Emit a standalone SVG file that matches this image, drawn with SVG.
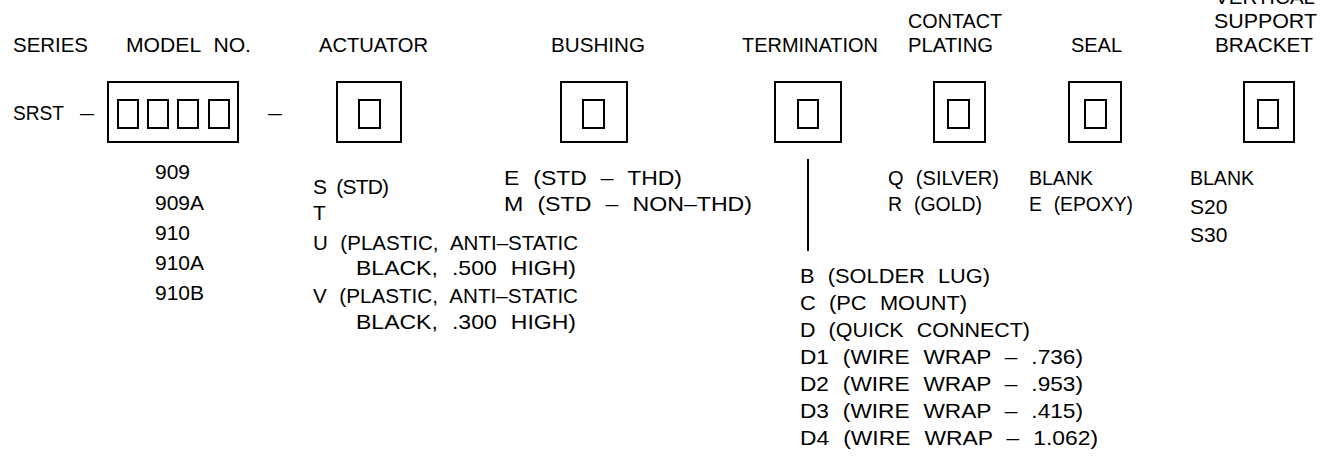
<svg xmlns="http://www.w3.org/2000/svg" width="1332" height="473" viewBox="0 0 1332 473">
<style>
text{font-family:"Liberation Sans",Arial,sans-serif;font-size:21px;fill:#000;word-spacing:7px;}
.b{fill:none;stroke:#000;stroke-width:2;}
.ln{stroke:#000;stroke-width:2;fill:none;}
</style>
<rect width="1332" height="473" fill="#fff"/>
<g id="series">
<text x="13" y="52" textLength="75" lengthAdjust="spacingAndGlyphs">SERIES</text>
<text x="13" y="120" textLength="51" lengthAdjust="spacingAndGlyphs">SRST</text>
<text x="80" y="120" textLength="14" lengthAdjust="spacingAndGlyphs">–</text>
</g>
<g id="model">
<text x="126" y="52" textLength="125" lengthAdjust="spacingAndGlyphs">MODEL NO.</text>
<rect class="b" x="108" y="82" width="130" height="60"/>
<rect class="b" x="118" y="100" width="20" height="28"/>
<rect class="b" x="148" y="100" width="20" height="28"/>
<rect class="b" x="178" y="100" width="20" height="28"/>
<rect class="b" x="209" y="100" width="20" height="28"/>
<text x="155" y="179">909</text>
<text x="155" y="210">909A</text>
<text x="155" y="240">910</text>
<text x="155" y="270">910A</text>
<text x="155" y="300">910B</text>
<text x="268" y="120" textLength="14" lengthAdjust="spacingAndGlyphs">–</text>
</g>
<g id="actuator">
<text x="319" y="52" textLength="109" lengthAdjust="spacingAndGlyphs">ACTUATOR</text>
<rect class="b" x="337" y="82" width="64" height="60"/>
<rect class="b" x="359" y="100" width="21" height="28"/>
<text x="313" y="194" style="word-spacing:5px;letter-spacing:-0.8px">S (STD)</text>
<text x="313" y="220">T</text>
<text x="313" y="250" textLength="265" lengthAdjust="spacingAndGlyphs">U (PLASTIC, ANTI–STATIC</text>
<text x="356" y="275" textLength="220" lengthAdjust="spacingAndGlyphs">BLACK, .500 HIGH)</text>
<text x="313" y="303" textLength="265" lengthAdjust="spacingAndGlyphs">V (PLASTIC, ANTI–STATIC</text>
<text x="356" y="329" textLength="220" lengthAdjust="spacingAndGlyphs">BLACK, .300 HIGH)</text>
</g>
<g id="bushing">
<text x="551" y="52" textLength="94" lengthAdjust="spacingAndGlyphs">BUSHING</text>
<rect class="b" x="561" y="82" width="66" height="60"/>
<rect class="b" x="583" y="100" width="21" height="28"/>
<text x="504" y="185" textLength="178" lengthAdjust="spacingAndGlyphs">E (STD – THD)</text>
<text x="504" y="211" textLength="248" lengthAdjust="spacingAndGlyphs">M (STD – NON–THD)</text>
</g>
<g id="termination">
<text x="742" y="52" textLength="136" lengthAdjust="spacingAndGlyphs">TERMINATION</text>
<rect class="b" x="775" y="82" width="66" height="60"/>
<rect class="b" x="798" y="100" width="20" height="28"/>
<text x="800" y="283" textLength="190" lengthAdjust="spacingAndGlyphs">B (SOLDER LUG)</text>
<text x="800" y="310" textLength="167" lengthAdjust="spacingAndGlyphs">C (PC MOUNT)</text>
<text x="800" y="337" textLength="230" lengthAdjust="spacingAndGlyphs">D (QUICK CONNECT)</text>
<text x="800" y="364" textLength="283" lengthAdjust="spacingAndGlyphs">D1 (WIRE WRAP – .736)</text>
<text x="800" y="391" textLength="283" lengthAdjust="spacingAndGlyphs">D2 (WIRE WRAP – .953)</text>
<text x="800" y="418" textLength="283" lengthAdjust="spacingAndGlyphs">D3 (WIRE WRAP – .415)</text>
<text x="800" y="445" textLength="298" lengthAdjust="spacingAndGlyphs">D4 (WIRE WRAP – 1.062)</text>
</g>
<g id="contact-plating">
<text x="908" y="28" textLength="94" lengthAdjust="spacingAndGlyphs">CONTACT</text>
<text x="908" y="52" textLength="85" lengthAdjust="spacingAndGlyphs">PLATING</text>
<rect class="b" x="934" y="82" width="51" height="60"/>
<rect class="b" x="948" y="100" width="21" height="28"/>
<text x="888" y="185" textLength="111" lengthAdjust="spacingAndGlyphs">Q (SILVER)</text>
<text x="888" y="211" textLength="94" lengthAdjust="spacingAndGlyphs">R (GOLD)</text>
</g>
<g id="seal">
<text x="1071" y="52" textLength="51" lengthAdjust="spacingAndGlyphs">SEAL</text>
<rect class="b" x="1069" y="82" width="52" height="60"/>
<rect class="b" x="1085" y="100" width="21" height="28"/>
<text x="1029" y="185" textLength="64" lengthAdjust="spacingAndGlyphs">BLANK</text>
<text x="1029" y="211" textLength="104" lengthAdjust="spacingAndGlyphs">E (EPOXY)</text>
</g>
<g id="support-bracket">
<text x="1215" y="4" textLength="100" lengthAdjust="spacingAndGlyphs">VERTICAL</text>
<text x="1214" y="28" textLength="103" lengthAdjust="spacingAndGlyphs">SUPPORT</text>
<text x="1215" y="52" textLength="98" lengthAdjust="spacingAndGlyphs">BRACKET</text>
<rect class="b" x="1244" y="82" width="50" height="60"/>
<rect class="b" x="1258" y="100" width="20" height="28"/>
<text x="1190" y="185" textLength="64" lengthAdjust="spacingAndGlyphs">BLANK</text>
<text x="1190" y="214">S20</text>
<text x="1190" y="242">S30</text>
</g>
<g id="connectors">
<line class="ln" x1="808" y1="159" x2="808" y2="251"/>
</g>
</svg>
